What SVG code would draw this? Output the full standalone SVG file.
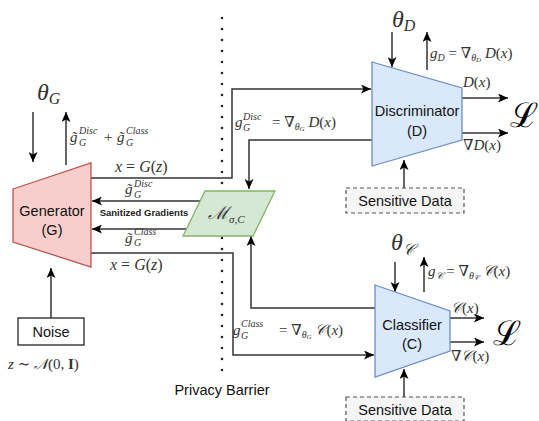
<svg xmlns="http://www.w3.org/2000/svg" width="539" height="421" viewBox="0 0 539 421">
<defs>
<marker id="ah" markerUnits="userSpaceOnUse" markerWidth="11" markerHeight="9" refX="10" refY="4.5" orient="auto">
<path d="M0,0 L10,4.5 L0,9 L2.5,4.5 z" fill="#000"/>
</marker>
<style>
.lbl{font-family:"Liberation Sans",Arial,sans-serif;font-size:14.5px;fill:#111;text-anchor:middle}
.m{font-family:"Liberation Serif","DejaVu Serif",serif;font-style:italic;fill:#333}
.u{font-style:normal}
.c{fill:none;stroke:#333;stroke-width:1.5}
.a{marker-end:url(#ah)}
.big{font-family:"DejaVu Serif","Liberation Serif",serif;font-size:34px;fill:#000}
</style>
</defs>
<rect width="539" height="421" fill="#fff"/>

<!-- privacy barrier -->
<g id="barrier">
<line x1="222" y1="18" x2="222" y2="372" stroke="#222" stroke-width="2.6" stroke-linecap="round" stroke-dasharray="0 11"/>
<text class="lbl" x="222" y="395">Privacy Barrier</text>
</g>

<g id="connectors">
<path class="c a" d="M91,178 H232 V89 H371"/>
<path class="c a" d="M372,140 H249 V189"/>
<path class="c a" d="M200,201 H92"/>
<path class="c a" d="M186,229 H92"/>
<path class="c a" d="M91,253 H233 V355 H374"/>
<path class="c a" d="M375,308 H251 V236"/>
<path class="c a" d="M33,112 V162"/>
<path class="c a" d="M66,165 V112"/>
<path class="c a" d="M51,318 V268"/>
<path class="c a" d="M392,32 V67"/>
<path class="c a" d="M427,70 V32"/>
<path class="c a" d="M462,98 H508"/>
<path class="c a" d="M462,133 H508"/>
<path class="c a" d="M404,188 V160"/>
<path class="c a" d="M395,262 V292"/>
<path class="c a" d="M424,292 V257"/>
<path class="c a" d="M450,318 H484"/>
<path class="c a" d="M450,342 H484"/>
<path class="c a" d="M404,397 V369"/>
</g>

<g id="generator">
<polygon points="13,189 91,163 91,267 13,242" fill="#f8cecc" stroke="#b85450" stroke-width="1.3"/>
<text class="lbl" x="52" y="216">Generator</text>
<text class="lbl" x="52" y="235">(G)</text>
</g>

<g id="mechanism">
<polygon points="205,191 275,191 253,236 183,236" fill="#d5e8d4" stroke="#82b366" stroke-width="1.3"/>
<text class="m" x="208" y="219" font-size="18">ℳ<tspan font-size="11" dy="4">σ,C</tspan></text>
</g>

<g id="discriminator">
<polygon points="372,62 462,88 462,140 372,166" fill="#dae8fc" stroke="#6c8ebf" stroke-width="1.3"/>
<text class="lbl" x="417" y="116">Discriminator</text>
<text class="lbl" x="417" y="136">(D)</text>
</g>

<g id="classifier">
<polygon points="375,285 450,311 450,351 375,377" fill="#dae8fc" stroke="#6c8ebf" stroke-width="1.3"/>
<text class="lbl" x="412" y="330">Classifier</text>
<text class="lbl" x="412" y="349">(C)</text>
</g>

<g id="noise">
<rect x="18" y="318" width="66" height="27" fill="#fff" stroke="#222" stroke-width="1.3"/>
<text class="lbl" x="51" y="337">Noise</text>
</g>

<g id="sensitive-d">
<rect x="346" y="188" width="118" height="25" fill="#f5f5f5" stroke="#555" stroke-width="1.2" stroke-dasharray="4 3"/>
<text class="lbl" x="405" y="206">Sensitive Data</text>
</g>

<g id="sensitive-c">
<rect x="346" y="397" width="118" height="24" fill="#f5f5f5" stroke="#555" stroke-width="1.2" stroke-dasharray="4 3"/>
<text class="lbl" x="405" y="415">Sensitive Data</text>
</g>

<!-- labels -->
<g id="labels">
<text class="m" x="37" y="100" font-size="24" fill="#111">θ<tspan font-size="16" dy="4">G</tspan></text>
<text class="m" x="392" y="27" font-size="24" fill="#111">θ<tspan font-size="16" dy="4">D</tspan></text>
<text class="m" x="391" y="250" font-size="24" fill="#111">θ<tspan font-size="16" dy="5">𝒞</tspan></text>

<text class="m" font-size="15" x="70" y="142">g̃</text>
<text class="m" font-size="10" x="79" y="134">Disc</text>
<text class="m" font-size="10" x="79" y="146">G</text>
<text class="m u" font-size="15" x="104" y="142">+</text>
<text class="m" font-size="15" x="117" y="142">g̃</text>
<text class="m" font-size="10" x="126" y="134">Class</text>
<text class="m" font-size="10" x="126" y="146">G</text>

<text class="m" font-size="16" x="115" y="172">x <tspan class="u">=</tspan> G<tspan class="u">(</tspan>z<tspan class="u">)</tspan></text>
<text class="m" font-size="16" x="110" y="270">x <tspan class="u">=</tspan> G<tspan class="u">(</tspan>z<tspan class="u">)</tspan></text>

<text class="m" font-size="15" x="125" y="194">g̃</text>
<text class="m" font-size="10" x="134" y="187">Disc</text>
<text class="m" font-size="10" x="134" y="198">G</text>
<text class="m" font-size="15" x="125" y="243">g̃</text>
<text class="m" font-size="10" x="134" y="235">Class</text>
<text class="m" font-size="10" x="134" y="246">G</text>
<text x="144" y="216" font-family="Liberation Sans,Arial,sans-serif" font-size="9.5" font-weight="bold" fill="#222" text-anchor="middle">Sanitized Gradients</text>

<text class="m" font-size="15" x="235" y="127">g</text>
<text class="m" font-size="10" x="243" y="120">Disc</text>
<text class="m" font-size="10" x="243" y="131">G</text>
<text class="m" font-size="15" x="272" y="127"><tspan class="u">= ∇</tspan><tspan font-size="10" dy="3">θ</tspan><tspan font-size="7" dy="1">G</tspan><tspan dy="-4"> D</tspan><tspan class="u">(</tspan>x<tspan class="u">)</tspan></text>

<text class="m" font-size="15" x="233" y="335">g</text>
<text class="m" font-size="10" x="241" y="327">Class</text>
<text class="m" font-size="10" x="241" y="339">G</text>
<text class="m" font-size="15" x="279" y="335"><tspan class="u">= ∇</tspan><tspan font-size="10" dy="3">θ</tspan><tspan font-size="7" dy="1">G</tspan><tspan dy="-4"> 𝒞</tspan><tspan class="u">(</tspan>x<tspan class="u">)</tspan></text>

<text class="m" font-size="15" x="430" y="58">g<tspan font-size="10" dy="3">D</tspan><tspan class="u" dy="-3"> = ∇</tspan><tspan font-size="10" dy="3">θ</tspan><tspan font-size="7" dy="1">D</tspan><tspan dy="-4"> D</tspan><tspan class="u">(</tspan>x<tspan class="u">)</tspan></text>
<text class="m" font-size="15" x="428" y="276">g<tspan font-size="10" dy="3">𝒞</tspan><tspan class="u" dy="-3"> = ∇</tspan><tspan font-size="10" dy="3">θ</tspan><tspan font-size="7" dy="1">𝒞</tspan><tspan dy="-4"> 𝒞</tspan><tspan class="u">(</tspan>x<tspan class="u">)</tspan></text>

<text class="m" font-size="15" x="463" y="87">D<tspan class="u">(</tspan>x<tspan class="u">)</tspan></text>
<text class="m" font-size="15" x="463" y="150"><tspan class="u">∇</tspan>D<tspan class="u">(</tspan>x<tspan class="u">)</tspan></text>
<text class="m" font-size="15" x="451" y="313">𝒞<tspan class="u">(</tspan>x<tspan class="u">)</tspan></text>
<text class="m" font-size="15" x="451" y="361"><tspan class="u">∇</tspan>𝒞<tspan class="u">(</tspan>x<tspan class="u">)</tspan></text>

<text class="big" x="510" y="127">ℒ</text>
<text class="big" x="493" y="345">ℒ</text>

<text class="m" font-size="15" x="8" y="369">z <tspan class="u">∼</tspan> 𝒩<tspan class="u">(0, </tspan><tspan class="u" font-weight="bold">I</tspan><tspan class="u">)</tspan></text>
</g>
</svg>
